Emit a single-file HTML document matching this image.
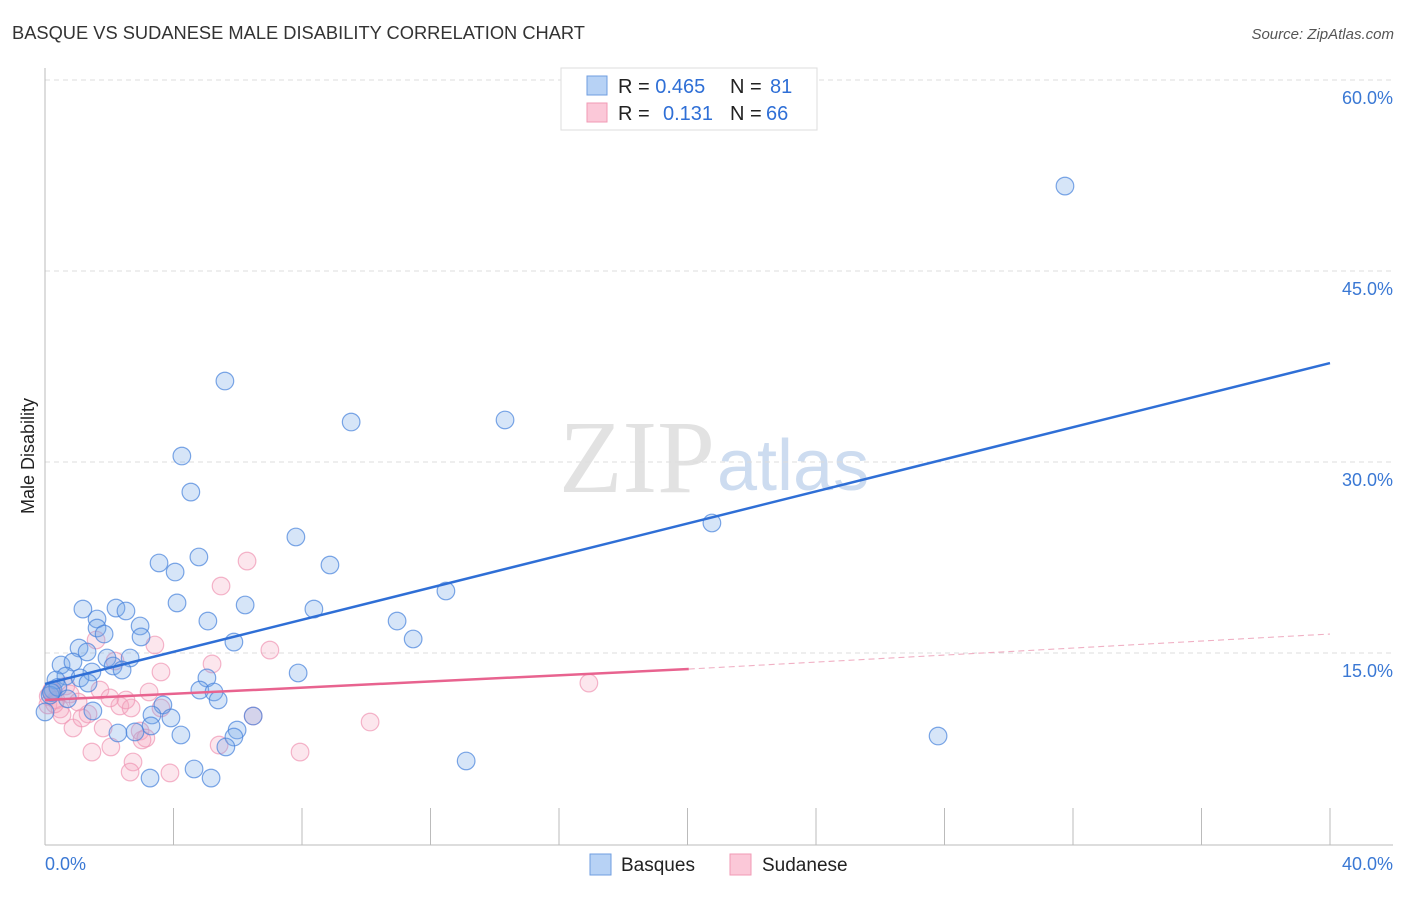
<!DOCTYPE html>
<html><head><meta charset="utf-8"><style>
body{margin:0;background:#fff;font-family:"Liberation Sans",sans-serif}
svg text{font-family:"Liberation Sans",sans-serif}
</style></head><body>
<svg id="c" width="1406" height="892">
<text x="12" y="39" font-size="18.3" fill="#333">BASQUE VS SUDANESE MALE DISABILITY CORRELATION CHART</text>
<text x="1394" y="39" font-size="15" fill="#555" font-style="italic" text-anchor="end">Source: ZipAtlas.com</text>
<text x="715" y="492" font-size="104" fill="#e2e2e2" text-anchor="end" style="font-family:'Liberation Serif',serif">ZIP</text>
<text x="717" y="490" font-size="72" fill="#cddcf0">atlas</text>
<text transform="translate(34,456) rotate(-90)" font-size="18" fill="#222" text-anchor="middle">Male Disability</text>
<g id="grid"></g><g id="pts"></g><g id="lines"></g>
<g>
<rect x="561" y="68" width="256" height="62" fill="#fff" stroke="#ddd"/>
<rect x="587" y="76" width="20" height="19" fill="#b7d2f5" stroke="#6f9ee0"/>
<rect x="587" y="103" width="20" height="19" fill="#fbc8d8" stroke="#f09ab5"/>
<text x="618" y="93" font-size="20" fill="#222">R = <tspan fill="#2f6fd6">0.465</tspan><tspan x="730">N = </tspan><tspan x="770" fill="#2f6fd6">81</tspan></text>
<text x="618" y="120" font-size="20" fill="#222">R = <tspan x="663" fill="#2f6fd6">0.131</tspan><tspan x="730">N = </tspan><tspan x="766" fill="#2f6fd6">66</tspan></text>
</g>
<g>
<rect x="590" y="854" width="21" height="21" fill="#b7d2f5" stroke="#6f9ee0"/>
<text x="621" y="871" font-size="19" fill="#222">Basques</text>
<rect x="730" y="854" width="21" height="21" fill="#fbc8d8" stroke="#f09ab5"/>
<text x="762" y="871" font-size="19" fill="#222">Sudanese</text>
</g>
</svg>
<script>
const yTicks=[15,30,45,60];
const xTickLabels=["0.0%","40.0%"];
const basqueX=[31.75,5.60,9.53,14.32,4.26,4.54,20.76,7.81,4.79,3.55,8.87,4.05,12.48,4.11,6.23,8.37,1.18,2.21,2.52,1.62,5.07,10.96,2.96,1.62,1.84,2.99,5.88,11.46,1.06,1.31,2.65,1.93,0.50,2.12,0.87,7.88,2.40,1.46,0.65,1.09,0.34,5.04,1.34,0.25,4.82,5.26,5.39,0.16,3.67,1.49,6.48,3.33,3.92,3.30,5.98,2.80,2.27,4.23,27.80,5.88,5.63,13.11,4.64,3.27,5.17,0.0,0.4,0.7,0.2];
const basqueY=[51.67,36.36,33.14,33.30,30.47,27.64,25.21,24.11,22.54,22.07,21.91,21.36,19.87,18.93,18.77,18.45,18.45,18.53,18.30,17.67,17.51,17.51,17.12,16.96,16.49,16.26,15.86,16.10,15.39,15.08,14.61,14.61,14.06,13.98,14.29,13.43,13.66,13.51,13.19,13.04,12.88,13.04,12.64,12.09,12.09,11.94,11.31,11.70,10.92,10.45,10.05,10.13,9.90,9.27,8.95,8.80,8.72,8.56,8.48,8.40,7.62,6.52,5.89,5.18,5.18,10.37,12.3,11.4,11.9];
const sudX=[6.29,5.48,3.42,7.00,1.59,5.20,3.61,2.18,16.93,3.24,1.71,0.65,2.33,2.68,0.09,0.47,1.34,10.12,0.87,1.81,2.96,3.14,5.42,2.05,1.46,7.94,2.74,2.65,3.89,6.48,1.15,0.34,0.78,0.22,2.02,2.52,1.03,3.61,3.02,0.53,0.1,0.3,0.2];
const sudY=[22.22,20.26,15.63,15.23,16.02,14.14,13.51,14.37,12.64,11.94,12.09,12.41,10.84,10.68,10.92,10.60,10.21,9.58,9.11,9.11,8.87,8.32,7.77,7.62,7.22,7.22,6.44,5.65,5.58,10.05,9.90,11.31,11.78,12.09,11.47,11.31,11.15,10.68,8.17,10.13,11.6,11.0,12.0];
const blueLine=[12.57,37.77];
const pinkLine=[11.31,13.74,16.49];
const pinkSolidEnd=20.04;
const NS="http://www.w3.org/2000/svg";
const sx=v=>45+v/40*1285, sy=v=>844-v/15*191;
function mk(t,a,p){const e=document.createElementNS(NS,t);for(const k in a)e.setAttribute(k,a[k]);p.appendChild(e);return e;}
const g=document.getElementById('grid');
yTicks.forEach(t=>{
 const l=mk('line',{x1:45,x2:1393,y1:sy(t),y2:sy(t),stroke:'#ddd','stroke-dasharray':'5,4'},g);
 
 
 const tx=mk('text',{x:1393,y:sy(t)+24,'font-size':18,fill:'#3a78d4','text-anchor':'end'},g);
 tx.textContent=t.toFixed(1)+'%';
 
 
});
const ax=mk('line',{x1:45,x2:45,y1:68,y2:845,stroke:'#bbb'},g);


const bx=mk('line',{x1:45,x2:1393,y1:845,y2:845,stroke:'#bbb'},g);


for(let i=0;i<=10;i++){const t=mk('line',{x1:sx(i*4),x2:sx(i*4),y1:808,y2:845,stroke:'#bbb'},g);
 
 }
[[0,'start'],[40,'end']].forEach((d,i)=>{const t=mk('text',{x:d[0]?1393:45,y:870,'font-size':18,fill:'#3a78d4','text-anchor':d[1]},g);t.textContent=xTickLabels[i];
 
 });
const p=document.getElementById('pts');
sudX.forEach((x,i)=>{const c=mk('circle',{cx:sx(x),cy:sy(sudY[i]),r:8.8,fill:'rgba(245,165,190,0.28)',stroke:'rgba(240,150,180,0.7)','stroke-width':1.2},p);
 
 });
basqueX.forEach((x,i)=>{const c=mk('circle',{cx:sx(x),cy:sy(basqueY[i]),r:8.8,fill:'rgba(120,168,232,0.3)',stroke:'rgba(70,130,220,0.7)','stroke-width':1.2},p);
 
 });
const L=document.getElementById('lines');
const b=mk('line',{x1:sx(0),y1:sy(blueLine[0]),x2:sx(40),y2:sy(blueLine[1]),stroke:'#2f6fd6','stroke-width':2.5},L);


const ps=mk('line',{x1:sx(0),y1:sy(pinkLine[0]),x2:sx(pinkSolidEnd),y2:sy(pinkLine[1]),stroke:'#e8638f','stroke-width':2.5},L);


const pd=mk('line',{x1:sx(pinkSolidEnd),y1:sy(pinkLine[1]),x2:sx(40),y2:sy(pinkLine[2]),stroke:'#f0b0c4','stroke-width':1.1,'stroke-dasharray':'6,4'},L);


</script>
</body></html>
